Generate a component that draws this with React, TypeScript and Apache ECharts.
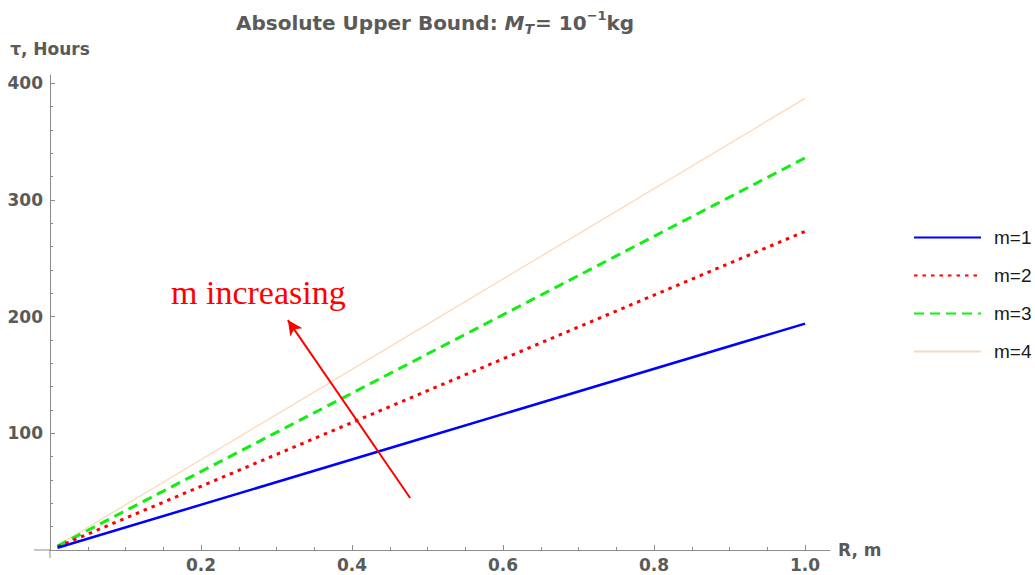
import React, { useEffect, useRef } from "react";
import * as echarts from "echarts";

// Radius R (m) sample points and relaxation time τ (hours) for each mode number
const radius = [0.01, 0.5, 1.0];
const tauM1 = [1.9, 97, 194];
const tauM2 = [2.7, 136.5, 273];
const tauM3 = [3.4, 168, 336];
const tauM4 = [3.9, 193.5, 387];
const seriesNames = ["m=1", "m=2", "m=3", "m=4"];

// Tick positions
const xMajorTicks = [0.2, 0.4, 0.6, 0.8, 1.0];
const xMinorTicks = [0.05, 0.1, 0.15, 0.25, 0.3, 0.35, 0.45, 0.5, 0.55, 0.65, 0.7, 0.75, 0.85, 0.9, 0.95];
const yMajorTicks = [100, 200, 300, 400];
const yMinorTicks = [20, 40, 60, 80, 120, 140, 160, 180, 220, 240, 260, 280, 320, 340, 360, 380];

// Arrow annotation: tail and head in data coordinates [R, τ]
const arrowTail = [0.477, 44.6];
const arrowHead = [0.315, 197];

const AXIS_GRAY = "#8c8c8c";
const LABEL_GRAY = "#5a5a5a";
const BOLD_SANS = "'DejaVu Sans', 'Liberation Sans', sans-serif";
const SANS = "'Liberation Sans', Arial, sans-serif";

const pairs = (ys: number[]) => radius.map((r, i) => [r, ys[i]]);

export default function App() {
  const ref = useRef<HTMLDivElement>(null);

  useEffect(() => {
    if (!ref.current) return;
    const chart = echarts.init(ref.current, null, { renderer: "svg" });

    const tickLabel = {
      color: LABEL_GRAY,
      fontFamily: BOLD_SANS,
      fontWeight: "bold" as const,
      fontSize: 17,
    };

    const option: any = {
      animation: false,
      backgroundColor: "#ffffff",
      title: {
        left: 231,
        top: 4,
        text: "{b|Absolute Upper Bound: }{i|M}{sub|T}{b|= 10}{sup|−1}{b|kg}",
        textStyle: {
          rich: {
            b: { fontFamily: BOLD_SANS, fontWeight: "bold", fontSize: 20, color: LABEL_GRAY, lineHeight: 27 },
            i: { fontFamily: BOLD_SANS, fontWeight: "bold", fontStyle: "italic", fontSize: 20, color: LABEL_GRAY, lineHeight: 27 },
            sub: { fontFamily: BOLD_SANS, fontWeight: "bold", fontStyle: "italic", fontSize: 14, color: LABEL_GRAY, lineHeight: 14, verticalAlign: "bottom", padding: [0, 1, 0, 0] },
            sup: { fontFamily: BOLD_SANS, fontWeight: "bold", fontSize: 13, color: LABEL_GRAY, lineHeight: 13, verticalAlign: "top" },
          },
        },
      },
      legend: {
        orient: "vertical",
        left: 908,
        top: 223,
        itemWidth: 67,
        itemHeight: 14,
        itemGap: 19,
        data: seriesNames,
        itemStyle: { opacity: 0 },
        textStyle: { fontFamily: SANS, fontSize: 19, color: "#1a1a1a", padding: [0, 0, 0, 8] },
      },
      grid: { left: 50, right: 205, top: 75, bottom: 25, containLabel: false, outerBoundsMode: "none" },
      xAxis: [
        {
          type: "value",
          min: 0,
          max: 1.033,
          name: "R, m",
          nameLocation: "end",
          nameGap: 8,
          nameTextStyle: { ...tickLabel, verticalAlign: "middle" },
          axisLine: { show: true, onZero: false, lineStyle: { color: AXIS_GRAY, width: 1 } },
          axisTick: { show: true, inside: true, length: 3, customValues: xMinorTicks, lineStyle: { color: AXIS_GRAY } },
          axisLabel: { ...tickLabel, margin: 6, customValues: xMajorTicks, formatter: (v: number) => v.toFixed(1) },
          splitLine: { show: false },
        },
        {
          type: "value",
          position: "bottom",
          min: 0,
          max: 1.033,
          axisLine: { show: false, onZero: false },
          axisTick: { show: true, inside: true, length: 5, customValues: xMajorTicks, lineStyle: { color: AXIS_GRAY } },
          axisLabel: { show: false },
          splitLine: { show: false },
        },
      ],
      yAxis: [
        {
          type: "value",
          min: 0,
          max: 407,
          name: "τ, Hours",
          nameLocation: "end",
          nameGap: 18,
          nameTextStyle: { ...tickLabel },
          axisLine: { show: true, onZero: false, lineStyle: { color: AXIS_GRAY, width: 1 } },
          axisTick: { show: true, inside: true, length: 3, customValues: yMinorTicks, lineStyle: { color: AXIS_GRAY } },
          axisLabel: { ...tickLabel, margin: 7, customValues: yMajorTicks },
          splitLine: { show: false },
        },
        {
          type: "value",
          position: "left",
          min: 0,
          max: 407,
          axisLine: { show: false, onZero: false },
          axisTick: { show: true, inside: true, length: 5, customValues: yMajorTicks, lineStyle: { color: AXIS_GRAY } },
          axisLabel: { show: false },
          splitLine: { show: false },
        },
      ],
      series: [
        {
          name: seriesNames[0],
          type: "line",
          symbol: "none",
          data: pairs(tauM1),
          color: "#0000ff",
          lineStyle: { color: "#0000ff", width: 2.5 },
          z: 4,
          markLine: {
            silent: true,
            symbol: ["none", "arrow"],
            symbolSize: [11, 15],
            label: { show: false },
            lineStyle: { color: "#ff0000", width: 2, type: "solid" },
            data: [[{ coord: arrowTail }, { coord: arrowHead }]],
          },
        },
        {
          name: seriesNames[1],
          type: "line",
          symbol: "none",
          data: pairs(tauM2),
          color: "#ff0000",
          lineStyle: { color: "#ff0000", width: 3, type: [3.5, 5] },
          z: 3,
        },
        {
          name: seriesNames[2],
          type: "line",
          symbol: "none",
          data: pairs(tauM3),
          color: "#11ee11",
          lineStyle: { color: "#11ee11", width: 3, type: [10, 6] },
          z: 2,
        },
        {
          name: seriesNames[3],
          type: "line",
          symbol: "none",
          data: pairs(tauM4),
          color: "#ffd8b8",
          lineStyle: { color: "#ffd8b8", width: 1.3 },
          z: 1,
        },
      ],
    };

    chart.setOption(option);

    // Short axis overhangs past the origin, Mathematica-style
    const [ox, oy] = chart.convertToPixel({ gridIndex: 0 }, [0, 0]) as number[];
    chart.setOption({
      graphic: [
        {
          type: "line",
          shape: { x1: ox - 16, y1: oy, x2: ox, y2: oy },
          style: { stroke: AXIS_GRAY, lineWidth: 1 },
          z: 1,
        },
        {
          type: "line",
          shape: { x1: ox, y1: oy, x2: ox, y2: oy + 8 },
          style: { stroke: AXIS_GRAY, lineWidth: 1 },
          z: 1,
        },
        {
          type: "text",
          left: 171,
          top: 275,
          style: {
            text: "m increasing",
            fill: "#ff0000",
            font: "34px 'Liberation Serif', 'DejaVu Serif', serif",
          },
        },
      ],
    });

    return () => chart.dispose();
  }, []);

  return (
    <div
      ref={ref}
      style={{ position: "fixed", left: 0, top: 0, width: 1035, height: 575, background: "#fff" }}
    />
  );
}
